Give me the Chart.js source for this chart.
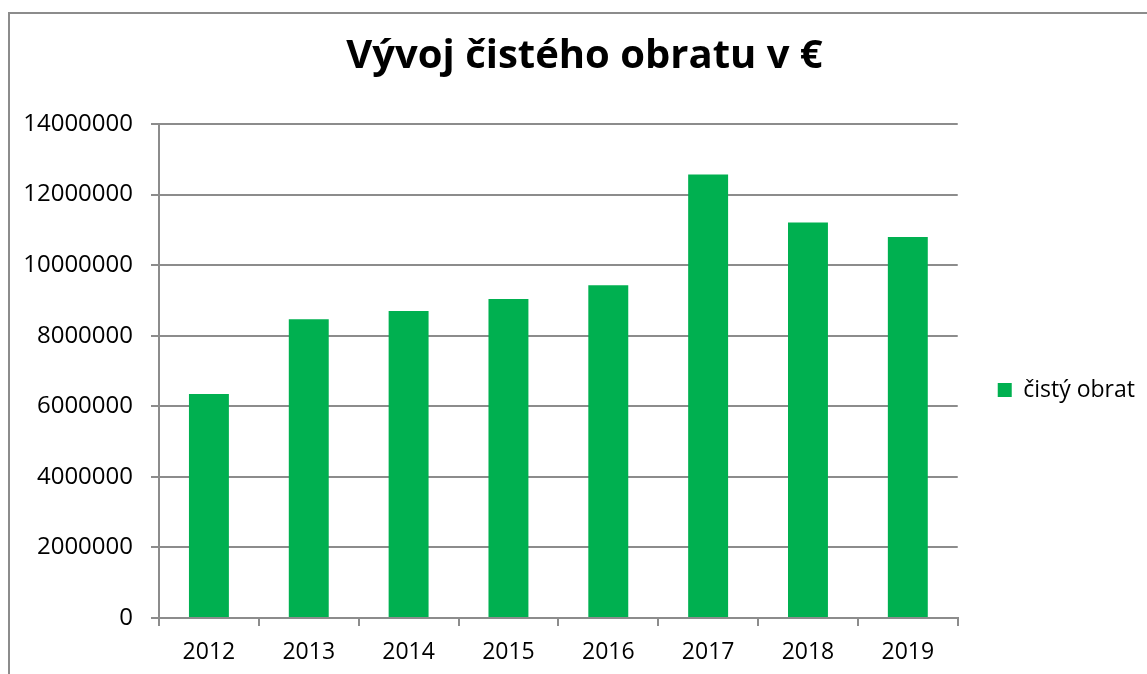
<!DOCTYPE html>
<html lang="sk">
<head>
    <meta charset="UTF-8">
    <title>Vývoj čistého obratu</title>
    <script src="https://cdn.jsdelivr.net/npm/chart.js"></script>
    <style>
        body { margin: 0; background: #fff; }
        #frame { position: absolute; left: 8px; top: 12px; width: 1200px; height: 700px;
                 border-left: 2px solid #8c8c8c; border-top: 2px solid #8c8c8c; }
        #obratChart { position: absolute; left: 0; top: 0; }
    </style>
</head>
<body>
    <div id="frame"></div>
    <canvas id="obratChart" width="1147" height="674"></canvas>
    <script>
        // data
        const years = ['2012', '2013', '2014', '2015', '2016', '2017', '2018', '2019'];
        const cistyObrat = [6350000, 8470000, 8700000, 9040000, 9430000, 12570000, 11210000, 10800000];
        const yMin = 0;
        const yMax = 14000000;
        const yStep = 2000000;

        const gridColor = '#8c8c8c';
        const font = 'Open Sans';

        const ctx = document.getElementById('obratChart').getContext('2d');
        const obratChart = new Chart(ctx, {
            type: 'bar',
            data: {
                labels: years,
                datasets: [{
                    label: 'čistý obrat',
                    data: cistyObrat,
                    backgroundColor: '#00b050',
                    categoryPercentage: 1,
                    barPercentage: 0.4
                }]
            },
            options: {
                responsive: false,
                animation: false,
                layout: { padding: { left: 24, right: 2, top: 0, bottom: 0 } },
                plugins: {
                    title: {
                        display: true,
                        text: 'Vývoj čistého obratu v €',
                        color: '#000',
                        font: { family: font, size: 40, weight: 'bold' },
                        padding: { top: 33, bottom: 43 }
                    },
                    legend: {
                        position: 'right',
                        fullSize: false,
                        // empty title only pushes the entry a bit lower, as in the original
                        title: {
                            display: true,
                            text: '',
                            font: { family: font, size: 10 },
                            padding: { top: 26, bottom: 0 }
                        },
                        labels: {
                            color: '#000',
                            font: { family: font, size: 23 },
                            boxWidth: 14,
                            boxHeight: 14,
                            padding: 40
                        }
                    },
                    tooltip: { enabled: false }
                },
                scales: {
                    x: {
                        grid: {
                            display: true,
                            drawOnChartArea: false,
                            drawTicks: true,
                            tickLength: 8,
                            color: gridColor,
                            lineWidth: 2
                        },
                        border: { color: gridColor, width: 2 },
                        ticks: {
                            color: '#000',
                            font: { family: font, size: 23 },
                            padding: 13
                        },
                        afterFit: (scale) => { scale.height = 56; }
                    },
                    y: {
                        min: yMin,
                        max: yMax,
                        grid: {
                            color: gridColor,
                            lineWidth: 2,
                            tickLength: 8
                        },
                        border: { color: gridColor, width: 2 },
                        ticks: {
                            stepSize: yStep,
                            color: '#000',
                            font: { family: font, size: 24 },
                            padding: 18,
                            callback: (v) => String(v)
                        },
                        afterFit: (scale) => { scale.width = 135; }
                    }
                }
            }
        });
    </script>
</body>
</html>
